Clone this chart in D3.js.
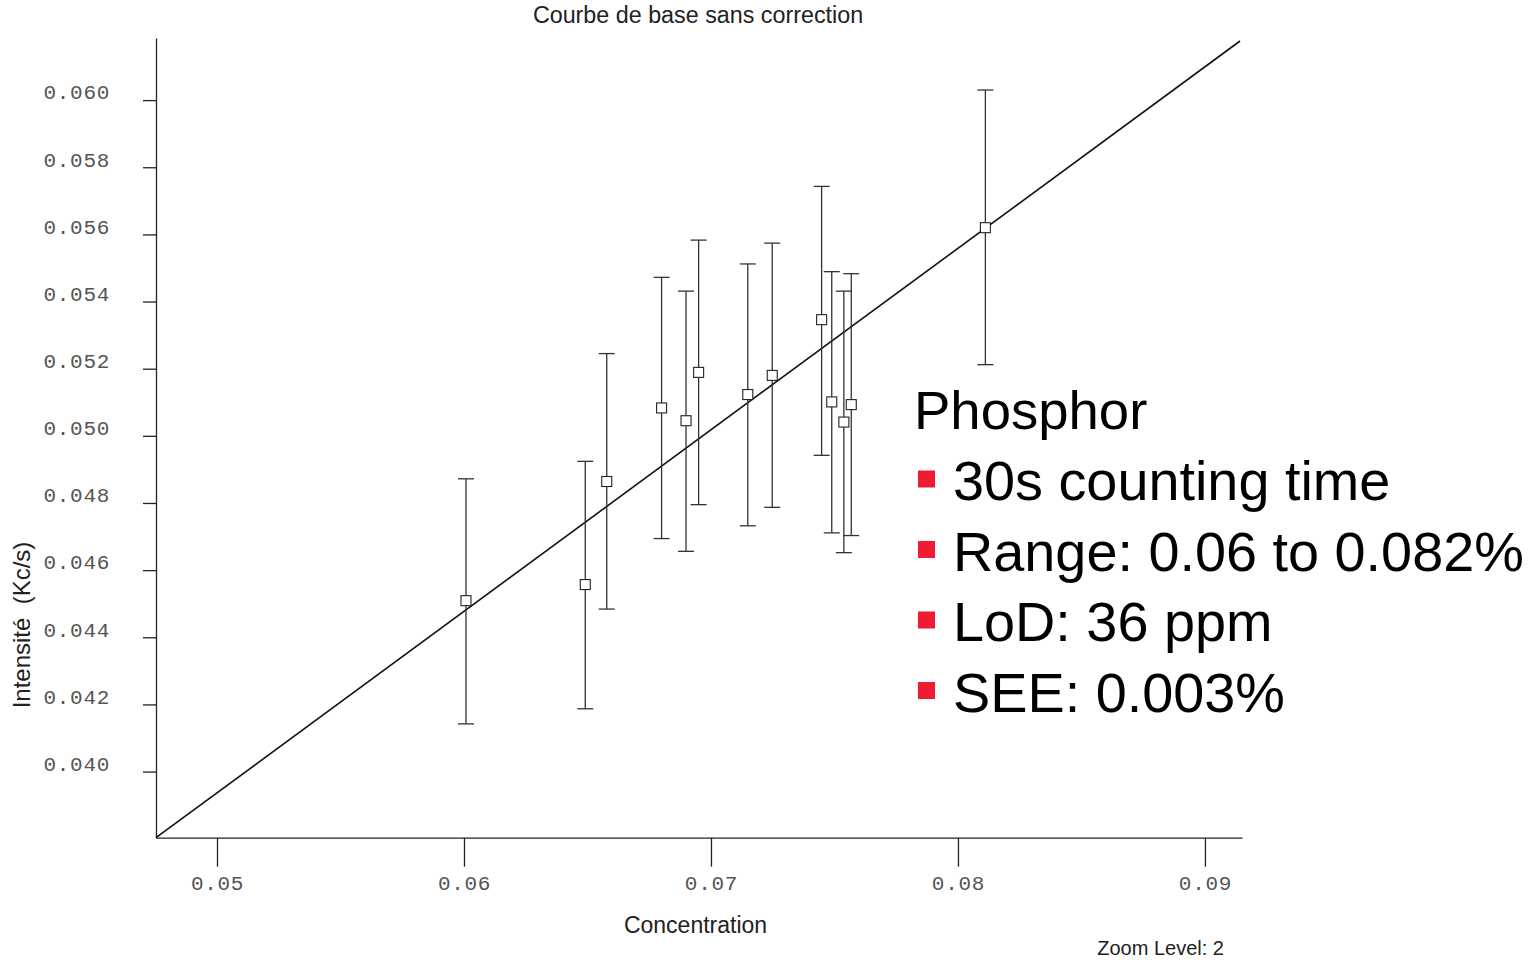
<!DOCTYPE html>
<meta charset="utf-8">
<script src="https://d3js.org/d3.v7.min.js"></script>
<style>
body { margin: 0; background: #fff; }
.tick text { font-family: "Liberation Mono", "Courier New", monospace; font-size: 21px; fill: #555; letter-spacing: 0.7px; }
.axis path, .axis line { stroke: #222; stroke-width: 1.3px; fill: none; }
.lbl { font-family: "Liberation Sans", Arial, sans-serif; fill: #222; }
.err { stroke: #333; stroke-width: 1.3px; fill: none; }
.pt { fill: #fff; stroke: #222; stroke-width: 1.1px; }
.fit { stroke: #111; stroke-width: 1.6px; fill: none; }
</style>
<body>
<div id="plot"></div>
<script>
// measured standards: concentration, intensity, error bar low / high
var conc = [0.06008, 0.06491, 0.06578, 0.0680, 0.06899, 0.0695, 0.07149, 0.07248, 0.07448, 0.07489, 0.07538, 0.07568, 0.08111];
var intens = [0.04509, 0.04557, 0.04864, 0.05083, 0.05045, 0.05189, 0.05123, 0.0518, 0.05346, 0.05101, 0.05041, 0.05093, 0.0562];
var errLow = [0.04142, 0.04187, 0.04484, 0.04694, 0.04656, 0.04795, 0.04732, 0.04787, 0.04942, 0.04711, 0.04652, 0.04703, 0.05212];
var errHigh = [0.04872, 0.04924, 0.05245, 0.05472, 0.05431, 0.05583, 0.05512, 0.05574, 0.05743, 0.05489, 0.05431, 0.05483, 0.0603];

// calibration line y = intercept + slope * x
var fitSlope = 0.5407, fitIntercept = 0.01233;
var fitRange = [0.04753, 0.09142];

var xTicks = [0.05, 0.06, 0.07, 0.08, 0.09];
var yTicks = [0.040, 0.042, 0.044, 0.046, 0.048, 0.050, 0.052, 0.054, 0.056, 0.058, 0.060];

var legendTitle = "Phosphor";
var legendItems = ["30s counting time", "Range: 0.06 to 0.082%", "LoD: 36 ppm", "SEE: 0.003%"];

var W = 1535, H = 960;
var svg = d3.select("#plot").append("svg").attr("width", W).attr("height", H);

var x = d3.scaleLinear().domain([0.04753, 0.0915]).range([156, 1242]);
var y = d3.scaleLinear().domain([0.03803, 0.06185]).range([837.7, 38]);

// axes
var xAxis = svg.append("g").attr("class", "axis")
    .attr("transform", "translate(0,837.7)")
    .call(d3.axisBottom(x).tickValues(xTicks).tickSize(29).tickSizeOuter(0).tickFormat(d3.format(".2f")));
xAxis.selectAll("text").attr("y", 45).attr("dy", "0.35em");

var yAxis = svg.append("g").attr("class", "axis")
    .attr("transform", "translate(156,0)")
    .call(d3.axisLeft(y).tickValues(yTicks).tickSize(13).tickSizeOuter(0).tickPadding(33).tickFormat(d3.format(".3f")));
yAxis.selectAll("text").attr("y", -8.5).attr("dy", "0.35em");

// fit line
svg.append("path").attr("class", "fit")
    .datum(fitRange)
    .attr("d", d3.line().x(function(d) { return x(d); }).y(function(d) { return y(fitIntercept + fitSlope * d); }));

// error bars
var pts = conc.map(function(c, i) { return {x: c, y: intens[i], lo: errLow[i], hi: errHigh[i]}; });
var g = svg.selectAll(".eb").data(pts).enter().append("g").attr("class", "eb");
g.append("line").attr("class", "err")
    .attr("x1", function(d) { return x(d.x); }).attr("x2", function(d) { return x(d.x); })
    .attr("y1", function(d) { return y(d.lo); }).attr("y2", function(d) { return y(d.hi); });
g.append("line").attr("class", "err")
    .attr("x1", function(d) { return x(d.x) - 8; }).attr("x2", function(d) { return x(d.x) + 8; })
    .attr("y1", function(d) { return y(d.hi); }).attr("y2", function(d) { return y(d.hi); });
g.append("line").attr("class", "err")
    .attr("x1", function(d) { return x(d.x) - 8; }).attr("x2", function(d) { return x(d.x) + 8; })
    .attr("y1", function(d) { return y(d.lo); }).attr("y2", function(d) { return y(d.lo); });
g.append("rect").attr("class", "pt")
    .attr("x", function(d) { return x(d.x) - 5; })
    .attr("y", function(d) { return y(d.y) - 5; })
    .attr("width", 10).attr("height", 10);

// titles
svg.append("text").attr("class", "lbl")
    .attr("x", 698).attr("y", 23).attr("text-anchor", "middle")
    .style("font-size", "23.3px").text("Courbe de base sans correction");

svg.append("text").attr("class", "lbl")
    .attr("x", 695.5).attr("y", 933).attr("text-anchor", "middle")
    .style("font-size", "23px").text("Concentration");

svg.append("text").attr("class", "lbl")
    .attr("transform", "translate(30,625) rotate(-90)")
    .attr("text-anchor", "middle")
    .style("font-size", "24px").style("white-space", "pre")
    .text("Intensité  (Kc/s)");

svg.append("text").attr("class", "lbl")
    .attr("x", 1224).attr("y", 955).attr("text-anchor", "end")
    .style("font-size", "20px").text("Zoom Level: 2");

// legend box text
svg.append("text").attr("class", "lbl")
    .attr("x", 914).attr("y", 428.5)
    .style("font-size", "54.5px").style("fill", "#000").text(legendTitle);

var leg = svg.selectAll(".leg").data(legendItems).enter().append("g")
    .attr("class", "leg")
    .attr("transform", function(d, i) { return "translate(0," + (500 + i * 70.5) + ")"; });
leg.append("rect").attr("x", 918).attr("y", -29.5).attr("width", 17).attr("height", 17).style("fill", "#ee1c33");
leg.append("text").attr("class", "lbl").attr("x", 953).attr("y", 0)
    .style("font-size", "55.8px").style("fill", "#000").text(function(d) { return d; });
</script>
</body>
